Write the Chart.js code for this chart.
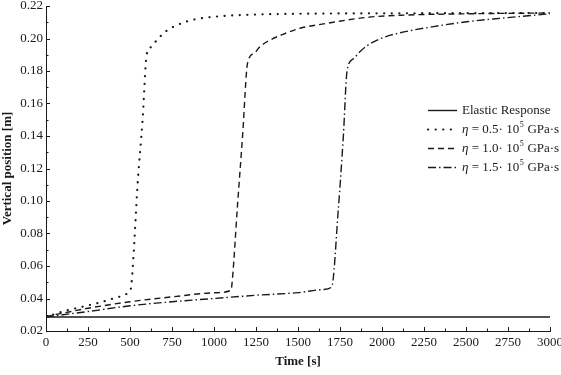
<!DOCTYPE html>
<html>
<head>
<meta charset="utf-8">
<script src="https://cdn.jsdelivr.net/npm/chart.js@4"></script>
<style>
html,body{margin:0;padding:0;background:#fff;}
#wrap{width:561px;height:375px;}
</style>
</head>
<body>
<div id="wrap"><canvas id="c" width="561" height="375"></canvas></div>
<script>
// ---- data ----
const seriesLabels = ['Elastic Response', 'η = 0.5· 10⁵ GPa·s', 'η = 1.0· 10⁵ GPa·s', 'η = 1.5· 10⁵ GPa·s'];

const timeElastic = [0, 3000];
const posElastic  = [0.0286, 0.0286];

const time05 = [0, 100, 200, 300, 400, 490, 505, 520, 545, 575, 599, 623, 668, 718, 768, 816, 870, 950, 1050, 1200, 1500, 2000, 2500, 3000];
const pos05  = [0.0286, 0.032, 0.0345, 0.037, 0.040, 0.0435, 0.046, 0.065, 0.110, 0.150, 0.190, 0.1946, 0.200, 0.2048, 0.2077, 0.2097, 0.2114, 0.2128, 0.2138, 0.2146, 0.2152, 0.2155, 0.2156, 0.2157];

const time10 = [0, 50, 100, 250, 500, 750, 1000, 1100, 1105, 1140, 1170, 1200, 1240, 1274, 1333, 1411, 1512, 1611, 1710, 1909, 2107, 2504, 3000];
const pos10  = [0.0286, 0.030, 0.031, 0.034, 0.038, 0.041, 0.0435, 0.045, 0.047, 0.0975, 0.140, 0.185, 0.191, 0.195, 0.199, 0.2026, 0.2063, 0.2083, 0.2100, 0.2130, 0.2143, 0.2152, 0.2157];

const time15 = [0, 100, 250, 500, 750, 1000, 1250, 1500, 1650, 1700, 1740, 1770, 1792, 1830, 1870, 1910, 2000, 2107, 2306, 2504, 2702, 3000];
const pos15  = [0.0286, 0.030, 0.032, 0.0355, 0.038, 0.040, 0.042, 0.0436, 0.0455, 0.047, 0.095, 0.140, 0.180, 0.1875, 0.1920, 0.1955, 0.2003, 0.2035, 0.2073, 0.2103, 0.2124, 0.2152];

const xTickMin = 0, xTickMax = 3000, xTickStep = 250;
const yTickMin = 0.02, yTickMax = 0.22, yTickStep = 0.02;

function pts(t, v) { return t.map((x, i) => ({x: x, y: v[i]})); }

const ink = '#1a1a1a';
const serif = '"Liberation Serif", "Times New Roman", serif';

const datasets = [
  {label: seriesLabels[0], data: pts(timeElastic, posElastic), borderDash: [], borderWidth: 1.4},
  {label: seriesLabels[1], data: pts(time05, pos05), borderDash: [0.1, 7.5], borderWidth: 2.2, borderCapStyle: 'round'},
  {label: seriesLabels[2], data: pts(time10, pos10), borderDash: [6, 4], borderWidth: 1.4},
  {label: seriesLabels[3], data: pts(time15, pos15), borderDash: [8, 3, 1.5, 3], borderWidth: 1.4}
].map(d => Object.assign({
  borderColor: ink, backgroundColor: ink, pointRadius: 0, fill: false,
  cubicInterpolationMode: 'monotone', borderCapStyle: 'butt'
}, d));

// inward ticks (major + minor), drawn via the chart scales
const innerTicks = {
  id: 'innerTicks',
  afterDatasetsDraw(chart) {
    const ctx = chart.ctx, xs = chart.scales.x, ys = chart.scales.y;
    ctx.save();
    ctx.strokeStyle = ink; ctx.lineWidth = 1; ctx.setLineDash([]);
    const b = xs.top, l = ys.right;
    for (let i = 0; xTickMin + i * xTickStep / 2 <= xTickMax + 1e-9; i++) {
      const v = xTickMin + i * xTickStep / 2;
      const px = Math.round(xs.getPixelForValue(v)) + 0.5;
      const len = i % 2 === 0 ? 4 : 2.5;
      ctx.beginPath(); ctx.moveTo(px, b); ctx.lineTo(px, b - len); ctx.stroke();
    }
    for (let i = 0; yTickMin + i * yTickStep / 2 <= yTickMax + 1e-9; i++) {
      const v = yTickMin + i * yTickStep / 2;
      const py = Math.round(ys.getPixelForValue(v)) + 0.5;
      const len = i % 2 === 0 ? 4 : 2.5;
      ctx.beginPath(); ctx.moveTo(l, py); ctx.lineTo(l + len, py); ctx.stroke();
    }
    ctx.restore();
  }
};

// custom legend drawn inside the plot area
const innerLegend = {
  id: 'innerLegend',
  afterDraw(chart) {
    const ctx = chart.ctx, a = chart.chartArea;
    const x0 = a.left + (a.right - a.left) * 0.758;
    const y0 = a.top + (a.bottom - a.top) * 0.32;
    const rowH = 19, sampleW = 29, gap = 5;
    ctx.save();
    chart.data.datasets.forEach((ds, i) => {
      const y = Math.round(y0 + i * rowH) + 0.5;
      ctx.strokeStyle = ds.borderColor;
      ctx.lineWidth = ds.borderWidth;
      ctx.lineCap = ds.borderCapStyle || 'butt';
      ctx.setLineDash(ds.borderDash || []);
      ctx.beginPath(); ctx.moveTo(x0, y); ctx.lineTo(x0 + sampleW, y); ctx.stroke();
      ctx.setLineDash([]);
      let tx = x0 + sampleW + gap;
      ctx.fillStyle = ink; ctx.textBaseline = 'middle'; ctx.textAlign = 'left';
      for (const ch of ds.label) {
        if (ch === 'η') {
          ctx.font = 'italic 13px ' + serif;
          ctx.fillText(ch, tx, y); tx += ctx.measureText(ch).width;
        } else if (ch === '⁵') {
          ctx.font = '8px ' + serif;
          ctx.fillText('5', tx + 0.5, y - 5); tx += ctx.measureText('5').width + 1;
        } else {
          ctx.font = '13px ' + serif;
          ctx.fillText(ch, tx, y); tx += ctx.measureText(ch).width;
        }
      }
    });
    ctx.restore();
  }
};

new Chart(document.getElementById('c'), {
  type: 'line',
  data: {datasets: datasets},
  options: {
    responsive: false,
    animation: false,
    devicePixelRatio: 1,
    layout: {padding: {left: 0, right: 11, top: 6, bottom: 0}},
    plugins: {legend: {display: false}, tooltip: {enabled: false}},
    scales: {
      x: {
        type: 'linear', min: xTickMin, max: xTickMax,
        grid: {display: false, drawTicks: false},
        border: {display: true, color: ink, width: 1},
        ticks: {stepSize: xTickStep, padding: 4, color: ink, font: {family: serif, size: 13}, maxRotation: 0,
                callback: v => String(v)},
        title: {display: true, text: 'Time [s]', color: ink, font: {family: serif, size: 13, weight: 'bold'}, padding: 6},
        afterFit(s) { s.height = 44; s.paddingLeft = 0; s.paddingRight = 0; }
      },
      y: {
        type: 'linear', min: yTickMin, max: yTickMax,
        grid: {display: false, drawTicks: false},
        border: {display: true, color: ink, width: 1},
        ticks: {stepSize: yTickStep, padding: 3, color: ink, font: {family: serif, size: 13},
                callback: v => Number(v).toFixed(2)},
        title: {display: true, text: 'Vertical position [m]', color: ink, font: {family: serif, size: 13, weight: 'bold'}, padding: 0},
        afterFit(s) { s.width = 46; s.paddingTop = 0; s.paddingBottom = 0; }
      }
    }
  },
  plugins: [innerTicks, innerLegend]
});
</script>
</body>
</html>
